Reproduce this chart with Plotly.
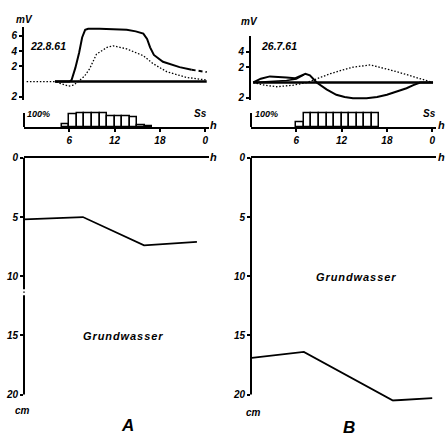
import plotly.graph_objects as go

# ---------------- data ----------------
# Panel A (22.8.61) potential, mV vs hour
a_solid_h = [4.1, 6.0, 6.3, 6.8, 7.3, 7.7, 8.1, 8.5, 10.0, 12.0, 13.6, 14.8, 15.8, 16.3, 16.7, 17.2, 18.4, 20.6, 22.2]
a_solid_mv = [0, 0, 0.2, 1.8, 3.8, 5.8, 6.8, 6.95, 6.95, 6.9, 6.8, 6.6, 6.3, 5.6, 4.5, 3.5, 2.6, 1.9, 1.55]
a_dash_h = [22.2, 24.2]
a_dash_mv = [1.55, 1.25]
a_dot_h = [0.35, 4.1, 5.0, 5.9, 6.6, 7.2, 8.0, 8.7, 9.6, 11.0, 11.8, 13.6, 15.8, 17.1, 18.9, 21.5, 24.2]
a_dot_mv = [0, 0, -0.3, -0.6, -0.45, 0, 0.7, 1.7, 3.6, 4.5, 4.7, 4.3, 3.4, 2.35, 1.3, 0.55, 0.2]
a_zero_h = [4.1, 24.2]
a_zero_mv = [0, 0]

# Panel B (26.7.61)
b_solid_h = [0.3, 1.3, 2.5, 3.6, 4.7, 5.8, 6.5, 7.2, 7.8, 8.7, 10.0, 11.3, 12.4, 13.5, 15.3, 16.7, 18.0, 19.3, 20.6, 21.5, 22.4, 24.1]
b_solid_mv = [0, 0.5, 0.8, 0.75, 0.65, 0.55, 0.85, 1.15, 0.95, 0, -0.9, -1.6, -1.9, -2.05, -2.05, -1.9, -1.6, -1.2, -0.75, -0.35, 0, 0]
b_solid2_h = [0.3, 2.5, 4.7, 6.0, 7.0]
b_solid2_mv = [0, 0.15, 0.25, 0.45, 1.0]
b_dot_h = [0.3, 1.8, 3.4, 5.6, 7.4, 9.0, 10.5, 12.0, 13.5, 15.8, 17.1, 18.6, 20.2, 21.8, 23.3, 24.1]
b_dot_mv = [0, -0.35, -0.55, -0.35, 0, 0.6, 1.15, 1.6, 2.0, 2.3, 2.0, 1.6, 1.15, 0.65, 0.2, 0]
b_zero_h = [0.3, 24.1]
b_zero_mv = [0, 0]

# Sunshine (fraction of hour), hour start
sun_hours_a = [5, 6, 7, 8, 9, 10, 11, 12, 13, 14, 15, 16]
sun_a = [0.2, 0.95, 1.0, 1.0, 1.0, 1.0, 0.8, 0.75, 0.75, 0.72, 0.15, 0.05]
sun_hours_b = [6, 7, 8, 9, 10, 11, 12, 13, 14, 15, 16]
sun_b = [0.35, 1.0, 1.0, 1.0, 1.0, 1.0, 1.0, 1.0, 1.0, 1.0, 1.0]

# Groundwater depth (cm)
gw_h_a = [0, 7.8, 15.9, 22.9]
gw_a = [5.2, 5.0, 7.4, 7.1]
gw_h_b = [0.1, 7.0, 18.8, 24.0]
gw_b = [16.9, 16.4, 20.5, 20.3]

hour_ticks = [6, 12, 18, 24]
hour_labels = ["6", "12", "18", "0"]
depth_ticks = [0, 5, 10, 15, 20]
depth_labels = ["0", "5", "10", "15", "20"]

# ---------------- layout helpers ----------------
W, H = 445, 436
def fx(px):
    return px / W
def fy(py):
    return 1 - py / H
def xdom(a, b):
    return [fx(a), fx(b)]
def ydom(top, bottom):
    return [fy(bottom), fy(top)]

FAM = "Liberation Sans"
def font(size):
    return dict(family=FAM, size=size, color="black", weight="bold", style="italic")

XR = [0, 24.5]
GR = [20.6, 0]
SR = [0, 1.2]
SUN_PX = 14.3  # px per unit sunshine
SUN_BASE = 124.3

fig = go.Figure()
BLK = "black"
DOT = "1.5px,1.8px"

def line(x, y, xa, ya, width=2, dash="solid"):
    fig.add_trace(go.Scatter(x=x, y=y, mode="lines", xaxis=xa, yaxis=ya,
                             line=dict(color=BLK, width=width, dash=dash),
                             hoverinfo="skip"))

# A mV
line(a_zero_h, a_zero_mv, "x", "y", 2.5)
line(a_dot_h, a_dot_mv, "x", "y", 1.3, DOT)
line(a_solid_h, a_solid_mv, "x", "y", 2)
line(a_dash_h, a_dash_mv, "x", "y", 2, "4px,3px")
# B mV
line(b_zero_h, b_zero_mv, "x2", "y2", 2.5)
line(b_dot_h, b_dot_mv, "x2", "y2", 1.3, DOT)
line(b_solid_h, b_solid_mv, "x2", "y2", 2)
line(b_solid2_h, b_solid2_mv, "x2", "y2", 1.5)
# sunshine bars
fig.add_trace(go.Bar(x=[h + 0.5 for h in sun_hours_a], y=sun_a, width=1, xaxis="x3", yaxis="y3",
                     marker=dict(color="white", line=dict(color=BLK, width=1.5)), hoverinfo="skip"))
fig.add_trace(go.Bar(x=[h + 0.5 for h in sun_hours_b], y=sun_b, width=1, xaxis="x4", yaxis="y4",
                     marker=dict(color="white", line=dict(color=BLK, width=1.5)), hoverinfo="skip"))
# groundwater
line(gw_h_a, gw_a, "x5", "y5", 1.8)
line(gw_h_b, gw_b, "x6", "y6", 1.8)

common = dict(showgrid=False, zeroline=False, linecolor=BLK, linewidth=2,
              tickfont=font(10), ticks="outside", ticklen=3, tickwidth=1.5, tickcolor=BLK)
noticks = {k: v for k, v in common.items() if k != "ticks"}

ax_a_x = [24, 209]
ax_b_x = [251, 436]
sun_top = SUN_BASE - SR[1] * SUN_PX

layout = dict(
    width=W, height=H, margin=dict(l=0, r=0, t=0, b=0),
    plot_bgcolor="white", paper_bgcolor="white", showlegend=False, bargap=0,
    # row 1
    xaxis=dict(domain=xdom(*ax_a_x), range=XR, visible=False, anchor="y"),
    yaxis=dict(domain=ydom(22.2, 97), range=[-2.45, 7.2], anchor="x", showline=True,
               tickvals=[-2, 2, 4, 6], ticktext=["2", "2", "4", "6"], **common),
    xaxis2=dict(domain=xdom(*ax_b_x), range=XR, visible=False, anchor="y2"),
    yaxis2=dict(domain=ydom(31.4, 96.9), range=[-2.3, 6.1], anchor="x2", showline=True,
                tickvals=[-2, 2, 4], ticktext=["2", "2", "4"], **common),
    # row 2
    xaxis3=dict(domain=xdom(*ax_a_x), range=XR, anchor="y3", showline=True,
                tickvals=hour_ticks, ticktext=hour_labels, **common),
    yaxis3=dict(domain=ydom(sun_top, SUN_BASE), range=SR, anchor="x3", showline=False,
                showticklabels=False, **noticks, ticks=""),
    xaxis4=dict(domain=xdom(*ax_b_x), range=XR, anchor="y4", showline=True,
                tickvals=hour_ticks, ticktext=hour_labels, **common),
    yaxis4=dict(domain=ydom(sun_top, SUN_BASE), range=SR, anchor="x4", showline=False,
                showticklabels=False, **noticks, ticks=""),
    # row 3
    xaxis5=dict(domain=xdom(*ax_a_x), range=XR, anchor="y5", side="top", showline=True,
                showticklabels=False, **noticks, ticks=""),
    yaxis5=dict(domain=ydom(155.7, 404.1), range=GR, anchor="x5", showline=False,
                tickvals=depth_ticks, ticktext=depth_labels, **common),
    xaxis6=dict(domain=xdom(*ax_b_x), range=XR, anchor="y6", side="top", showline=True,
                showticklabels=False, **noticks, ticks=""),
    yaxis6=dict(domain=ydom(155.7, 404.1), range=GR, anchor="x6", showline=False,
                tickvals=depth_ticks, ticktext=depth_labels, **common),
)
fig.update_layout(**layout)

# manual axis lines
def gfrac(cm):
    return (GR[0] - cm) / (GR[0] - GR[1])
def sfrac(v):
    return (v - SR[0]) / (SR[1] - SR[0])
shapes = []
for xr, yr, segs in [("x5 domain", "y5 domain", [(0, 11.1), (11.6, 20)]),
                     ("x6 domain", "y6 domain", [(0, 20)])]:
    for s0, s1 in segs:
        shapes.append(dict(type="line", xref=xr, yref=yr, x0=0, x1=0, y0=gfrac(s0), y1=gfrac(s1),
                           line=dict(color=BLK, width=2)))
shapes.append(dict(type="line", xref="x5 domain", yref="y5 domain", x0=0, x1=0,
                   y0=gfrac(11.3), y1=gfrac(11.4), line=dict(color=BLK, width=1.5)))
for xr, yr in [("x3 domain", "y3 domain"), ("x4 domain", "y4 domain")]:
    shapes.append(dict(type="line", xref=xr, yref=yr, x0=0, x1=0, y0=0, y1=sfrac(1.0),
                       line=dict(color=BLK, width=2)))
fig.update_layout(shapes=shapes)

# text labels
def txt(x, y, s, size=10, xanchor="center"):
    fig.add_annotation(x=fx(x), y=fy(y), xref="paper", yref="paper", text=s, showarrow=False,
                       font=font(size), xanchor=xanchor, yanchor="middle")

txt(24, 15, "mV", 10)
txt(249.5, 17, "mV", 10)
txt(48, 42, "22.8.61", 10.5)
txt(279, 42, "26.7.61", 10.5)
txt(25, 111, "100%", 9, "left")
txt(253, 111, "100%", 9, "left")
txt(200, 111, "Ss", 10)
txt(429, 111, "Ss", 10)
for hx in (213, 441):
    txt(hx, 122, "h", 11)
    txt(hx, 155, "h", 11)
gw_label = "\u200a".join("Grundwasser")
txt(123, 337, gw_label, 11)
txt(356, 277, gw_label, 11)
txt(22.5, 413, "cm", 10)
txt(253, 415, "cm", 10)
txt(127, 428, "A", 17)
txt(349, 430, "B", 17)

fig.write_html("out.html")
